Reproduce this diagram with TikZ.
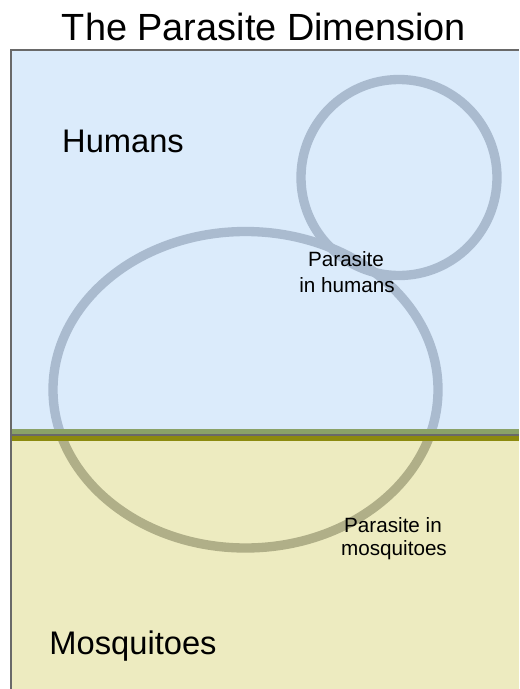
\documentclass[tikz,border=0pt]{standalone}
\usepackage{fontspec}
\setmainfont{Liberation Sans}
\definecolor{humanbg}{RGB}{219,235,251}
\definecolor{mosqbg}{RGB}{237,235,192}
\definecolor{ringblue}{RGB}{170,187,207}
\definecolor{ringolive}{RGB}{176,175,136}
\definecolor{sepgreen}{RGB}{138,162,104}
\definecolor{sepolive}{RGB}{140,138,14}
\definecolor{framegray}{RGB}{105,105,105}
\tikzset{
  ring/.style={line width=7pt},
  region/.style={font=\fontsize{24.5pt}{29pt}\selectfont, anchor=base},
  small/.style={font=\fontsize{15.5pt}{19pt}\selectfont, anchor=base},
}
\begin{document}
\begin{tikzpicture}[x=0.75pt,y=-0.75pt]
\useasboundingbox (0,0) rectangle (519,689);
% backgrounds
\fill[humanbg] (11,50) rectangle (519,432);
\fill[mosqbg] (11,432) rectangle (519,689);
% rings, coloured per region
\begin{scope}
  \clip (0,0) rectangle (519,432);
  \draw[ring, ringblue] (245.5,389.75) ellipse [x radius=192.5, y radius=158.25];
  \draw[ring, ringblue] (399,177.5) circle [radius=98];
\end{scope}
\begin{scope}
  \clip (0,432) rectangle (519,689);
  \draw[ring, ringolive] (245.5,389.75) ellipse [x radius=192.5, y radius=158.25];
\end{scope}
% separator
\fill[sepgreen] (11,429) rectangle (519,434.5);
\fill[sepolive] (11,435.5) rectangle (519,441);
\draw[framegray, line width=0.8pt] (11,435) -- (519,435);
% frame
\draw[framegray, line width=1.4pt] (519,50) -- (11,50) -- (11,689);
% texts
\node[font=\fontsize{28.4pt}{34pt}\selectfont, anchor=base] (title) at (264,40) {The Parasite Dimension};
\node[region] (humans) at (123,152) {Humans};
\node[region] (mosquitoes) at (133,654) {Mosquitoes};
\node[small] (ph1) at (346,266) {Parasite};
\node[small] (ph2) at (347,292) {in humans};
\node[small] (pm1) at (393,532) {Parasite in};
\node[small] (pm2) at (394,555) {mosquitoes};
\end{tikzpicture}
\end{document}
